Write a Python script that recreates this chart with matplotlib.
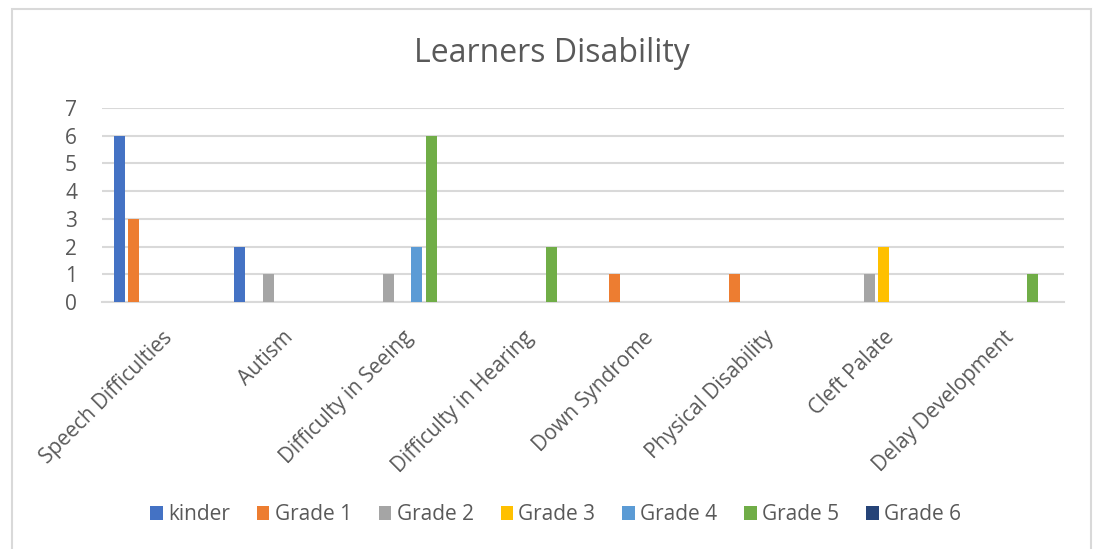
import matplotlib
matplotlib.use("Agg")
import matplotlib.pyplot as plt
import numpy as np
from matplotlib.patches import Rectangle

plt.rcParams['font.family'] = ['Open Sans', 'DejaVu Sans']

categories = ['Speech Difficulties', 'Autism', 'Difficulty in Seeing', 'Difficulty in Hearing',
              'Down Syndrome', 'Physical Disability', 'Cleft Palate', 'Delay Development']
series_names = ['kinder', 'Grade 1', 'Grade 2', 'Grade 3', 'Grade 4', 'Grade 5', 'Grade 6']
kinder = [6, 2, 0, 0, 0, 0, 0, 0]
grade1 = [3, 0, 0, 0, 1, 1, 0, 0]
grade2 = [0, 1, 1, 0, 0, 0, 1, 0]
grade3 = [0, 0, 0, 0, 0, 0, 2, 0]
grade4 = [0, 0, 2, 0, 0, 0, 0, 0]
grade5 = [0, 0, 6, 2, 0, 0, 0, 1]
grade6 = [0, 0, 0, 0, 0, 0, 0, 0]
colors = ['#4472C4', '#ED7D31', '#A5A5A5', '#FFC000', '#5B9BD5', '#70AD47', '#264478']

series = [kinder, grade1, grade2, grade3, grade4, grade5, grade6]
text_color = '#595959'
grid_color = '#d9d9d9'

fig = plt.figure(figsize=(10.98, 5.49), dpi=100)
ax = fig.add_axes([0.0929, 0.4499, 0.969 - 0.0929, 0.8033 - 0.4499])

x = np.arange(len(categories))
pitch = 0.119
width = 0.092
for i, (vals, name, c) in enumerate(zip(series, series_names, colors)):
    ax.bar(x + (i - 3) * pitch, vals, width=width, color=c, label=name, zorder=3)

ax.set_xlim(-0.5, len(categories) - 0.5)
ax.set_ylim(0, 7)
ax.set_yticks(range(0, 8))
ax.yaxis.grid(True, color=grid_color, linewidth=1.5, zorder=0)
for s in ['top', 'right', 'left']:
    ax.spines[s].set_visible(False)
ax.spines['bottom'].set_color(grid_color)
ax.spines['bottom'].set_linewidth(1.5)
ax.tick_params(axis='both', length=0, labelsize=15, labelcolor=text_color)
ax.tick_params(axis='y', pad=18)
ax.set_xticks(x)
ax.set_xticklabels(categories, rotation=45, ha='right', rotation_mode='anchor')
ax.tick_params(axis='x', pad=18)

fig.text(0.503, 0.903, 'Learners Disability', ha='center', va='center',
         fontsize=23, color=text_color)

leg = fig.legend(loc='center', bbox_to_anchor=(0.506, 0.062), ncol=7, frameon=False,
                 fontsize=15, handlelength=0.6, handleheight=0.7, handletextpad=0.25,
                 columnspacing=1.3, labelcolor=text_color)

fig.patches.append(Rectangle((12 / 1098, -0.05), (1091 - 12) / 1098, 1.05 - 9 / 549,
                             transform=fig.transFigure, fill=False,
                             edgecolor=grid_color, linewidth=1.5))

fig.savefig('out.png', dpi=100)
